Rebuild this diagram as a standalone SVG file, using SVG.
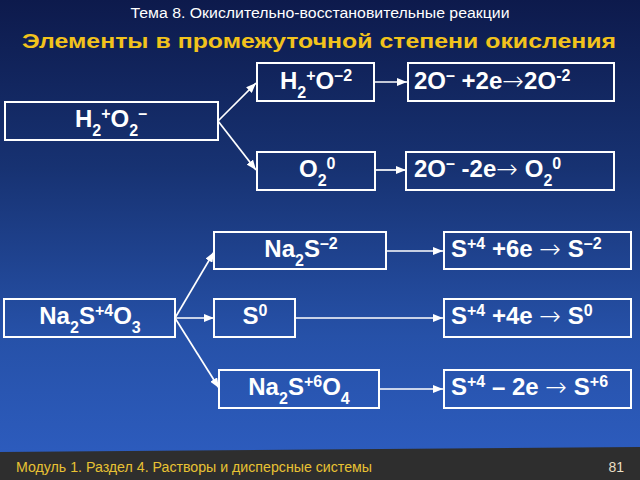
<svg xmlns="http://www.w3.org/2000/svg" width="640" height="480" viewBox="0 0 640 480">
<defs>
<linearGradient id="bg" x1="0" y1="0" x2="0" y2="1">
<stop offset="0" stop-color="#0d1a4c"/>
<stop offset="0.35" stop-color="#173272"/>
<stop offset="0.7" stop-color="#2651a8"/>
<stop offset="1" stop-color="#2e5ec2"/>
</linearGradient>
<marker id="ah" viewBox="0 0 10 8" refX="10" refY="4" markerWidth="10" markerHeight="8" markerUnits="userSpaceOnUse" orient="auto">
<path d="M0,0 L10,4 L0,8 Z" fill="#fff"/>
</marker>
<style>
.box{fill:none;stroke:#fff;stroke-width:2}
.t{font-family:"Liberation Sans",Arial,sans-serif;font-weight:bold;font-size:24px;fill:#fff}
.s{font-size:16px}
.c{text-anchor:middle}
.ar{font-family:"DejaVu Sans",sans-serif;font-weight:200;font-size:26px}
.con path{fill:none;stroke:#fff;stroke-width:1.7;marker-end:url(#ah)}
</style>
</defs>
<rect width="640" height="480" fill="url(#bg)"/>
<polygon points="0,452 640,447 640,480 0,480" fill="#2e2e2e"/>
<text x="320" y="18" text-anchor="middle" font-family="Liberation Sans,Arial,sans-serif" font-size="14" fill="#fff" textLength="379" lengthAdjust="spacingAndGlyphs">Тема 8. Окислительно-восстановительные реакции</text>
<text x="319" y="48" text-anchor="middle" font-family="Liberation Sans,Arial,sans-serif" font-size="21" font-weight="bold" fill="#f2c31c" textLength="594" lengthAdjust="spacingAndGlyphs">Элементы в промежуточной степени окисления</text>
<text x="16" y="472" font-family="Liberation Sans,Arial,sans-serif" font-size="14" fill="#e8c233" textLength="356" lengthAdjust="spacingAndGlyphs">Модуль 1. Раздел 4. Растворы и дисперсные системы</text>
<text x="624" y="472" text-anchor="end" font-family="Liberation Sans,Arial,sans-serif" font-size="14" fill="#e9dfc4">81</text>

<g id="connectors" class="con">
<path d="M218,121 L256,83"/>
<path d="M218,121 L256,170"/>
<path d="M374,82 L407,82"/>
<path d="M375,170 L406,170"/>
<path d="M175,318 L214,252"/>
<path d="M175,318 L214,318"/>
<path d="M175,318 L219,388"/>
<path d="M386,251 L443,251"/>
<path d="M295,318 L443,318"/>
<path d="M379,389 L443,389"/>
</g>

<g id="n-h2o2">
<rect class="box" x="5" y="102" width="213" height="38"/>
<text class="t c" x="111" y="127">H<tspan class="s" dy="9">2</tspan><tspan class="s" dy="-17">+</tspan><tspan dy="8">O</tspan><tspan class="s" dy="9">2</tspan><tspan class="s" dy="-17">–</tspan></text>
</g>
<g id="n-h2o">
<rect class="box" x="257" y="63" width="117" height="38"/>
<text class="t c" x="316" y="89">H<tspan class="s" dy="9">2</tspan><tspan class="s" dy="-17">+</tspan><tspan dy="8">O</tspan><tspan class="s" dy="-8">–2</tspan></text>
</g>
<g id="n-r1">
<rect class="box" x="408" y="63" width="206" height="38"/>
<text class="t" x="414" y="89">2O<tspan class="s" dy="-8">–</tspan><tspan dy="8"> +2e</tspan><tspan class="ar" dy="1">→</tspan><tspan dy="-1">2O</tspan><tspan class="s" dy="-8">-2</tspan></text>
</g>
<g id="n-o2">
<rect class="box" x="257" y="152" width="118" height="38"/>
<text class="t" x="299" y="177">O<tspan class="s" dy="9">2</tspan><tspan class="s" dy="-17">0</tspan></text>
</g>
<g id="n-r2">
<rect class="box" x="406" y="152" width="208" height="38"/>
<text class="t" x="414" y="177">2O<tspan class="s" dy="-8">–</tspan><tspan dy="8"> -2e</tspan><tspan class="ar" dy="1">→</tspan><tspan dy="-1"> O</tspan><tspan class="s" dy="9">2</tspan><tspan class="s" dy="-17">0</tspan></text>
</g>
<g id="n-na2s">
<rect class="box" x="214" y="232" width="172" height="37"/>
<text class="t c" x="301" y="257">Na<tspan class="s" dy="9">2</tspan><tspan dy="-9">S</tspan><tspan class="s" dy="-8">–2</tspan></text>
</g>
<g id="n-r3">
<rect class="box" x="444" y="232" width="187" height="37"/>
<text class="t" x="451" y="257">S<tspan class="s" dy="-8">+4</tspan><tspan dy="8"> +6e </tspan><tspan class="ar" dy="1">→</tspan><tspan dy="-1"> S</tspan><tspan class="s" dy="-8">–2</tspan></text>
</g>
<g id="n-na2so3">
<rect class="box" x="4" y="299" width="171" height="38"/>
<text class="t c" x="90" y="324">Na<tspan class="s" dy="9">2</tspan><tspan dy="-9">S</tspan><tspan class="s" dy="-8">+4</tspan><tspan dy="8">O</tspan><tspan class="s" dy="9">3</tspan></text>
</g>
<g id="n-s0">
<rect class="box" x="214" y="299" width="81" height="38"/>
<text class="t c" x="255" y="324">S<tspan class="s" dy="-8">0</tspan></text>
</g>
<g id="n-r4">
<rect class="box" x="444" y="299" width="187" height="38"/>
<text class="t" x="451" y="324">S<tspan class="s" dy="-8">+4</tspan><tspan dy="8"> +4e </tspan><tspan class="ar" dy="1">→</tspan><tspan dy="-1"> S</tspan><tspan class="s" dy="-8">0</tspan></text>
</g>
<g id="n-na2so4">
<rect class="box" x="219" y="370" width="160" height="38"/>
<text class="t c" x="299" y="395">Na<tspan class="s" dy="9">2</tspan><tspan dy="-9">S</tspan><tspan class="s" dy="-8">+6</tspan><tspan dy="8">O</tspan><tspan class="s" dy="9">4</tspan></text>
</g>
<g id="n-r5">
<rect class="box" x="444" y="370" width="187" height="38"/>
<text class="t" x="451" y="395">S<tspan class="s" dy="-8">+4</tspan><tspan dy="8"> – 2e </tspan><tspan class="ar" dy="1">→</tspan><tspan dy="-1"> S</tspan><tspan class="s" dy="-8">+6</tspan></text>
</g>
</svg>
